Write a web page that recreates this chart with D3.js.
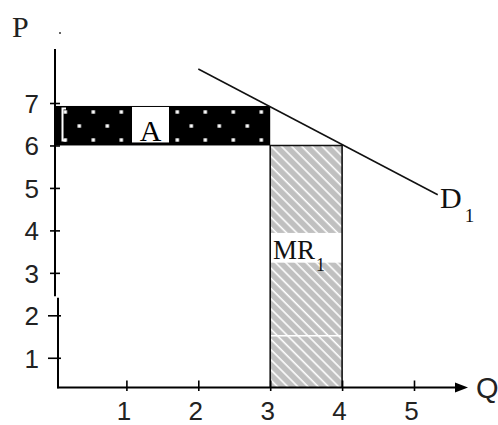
<!DOCTYPE html>
<html><head><meta charset="utf-8">
<script src="https://cdn.jsdelivr.net/npm/d3@7"></script>
<style>html,body{margin:0;padding:0;background:#fff;}</style>
</head><body>
<svg id="chart" width="498" height="425"></svg>
<script>
// Axis ticks
const qTicks = [1, 2, 3, 4, 5];
const pTicks = [1, 2, 3, 4, 5, 6, 7];
// Demand curve D1: end points as [Q, P]
const demandQ = [2.0, 5.33];
const demandP = [7.8, 4.84];
// Area A: gain in price on the units already sold
const areaAQ = [0, 3];
const areaAP = [6, 6.93];
// Area MR1: revenue from the extra unit sold
const areaMRQ = [3, 4];
const areaMRP = [0.3, 6];

const svg = d3.select("#chart");
const x = d3.scaleLinear().domain([0, 5]).range([54.5, 414]);
const y = d3.scaleLinear().domain([0.3, 7]).range([387.5, 103]);
const fmt = d3.format("d");

const serif = "'Liberation Serif', 'Times New Roman', serif";
const sans = "'Liberation Sans', Arial, sans-serif";

// fill patterns
const defs = svg.append("defs");
const dots = defs.append("pattern").attr("id", "dots")
  .attr("patternUnits", "userSpaceOnUse")
  .attr("width", 28).attr("height", 28).attr("x", 2.3).attr("y", 21);
dots.append("rect").attr("width", 28).attr("height", 28).attr("fill", "#000");
dots.append("rect").attr("x", 5.3).attr("y", 5.3).attr("width", 3.4).attr("height", 3.4).attr("fill", "#fff");
dots.append("rect").attr("x", 19.3).attr("y", 19.3).attr("width", 3.4).attr("height", 3.4).attr("fill", "#fff");

const hatch = defs.append("pattern").attr("id", "hatch")
  .attr("patternUnits", "userSpaceOnUse")
  .attr("width", 7.2).attr("height", 7.2)
  .attr("patternTransform", "rotate(-45)");
hatch.append("rect").attr("width", 7.2).attr("height", 7.2).attr("fill", "#c0c0c0");
hatch.append("line").attr("x1", 2).attr("x2", 2).attr("y1", 0).attr("y2", 7.2)
  .attr("stroke", "#fff").attr("stroke-width", 1.6);

// MR1 area
const mr = svg.append("g");
mr.append("rect")
  .attr("x", x(areaMRQ[0])).attr("y", y(areaMRP[1]))
  .attr("width", x(areaMRQ[1]) - x(areaMRQ[0]))
  .attr("height", y(areaMRP[0]) - y(areaMRP[1]))
  .attr("fill", "url(#hatch)");
// white label band and a thin white rule across the hatch
mr.append("rect")
  .attr("x", x(areaMRQ[0])).attr("y", y(3.94))
  .attr("width", x(areaMRQ[1]) - x(areaMRQ[0]))
  .attr("height", y(3.24) - y(3.94))
  .attr("fill", "#fff");
mr.append("line")
  .attr("x1", x(areaMRQ[0])).attr("x2", x(areaMRQ[1]))
  .attr("y1", y(1.52)).attr("y2", y(1.52))
  .attr("stroke", "#fff").attr("stroke-width", 1.5);
mr.append("path")
  .attr("d", `M${x(areaMRQ[0])},${y(areaMRP[0])}V${y(areaMRP[1])}H${x(areaMRQ[1])}V${y(areaMRP[0])}`)
  .attr("fill", "none").attr("stroke", "#111").attr("stroke-width", 1.6);

// Area A
const a = svg.append("g");
a.append("rect")
  .attr("x", x(areaAQ[0])).attr("y", y(areaAP[1]))
  .attr("width", x(areaAQ[1]) - x(areaAQ[0]))
  .attr("height", y(areaAP[0]) - y(areaAP[1]))
  .attr("fill", "url(#dots)");
a.append("path")
  .attr("d", `M66,108.5H62.5V140.5H66`)
  .attr("fill", "none").attr("stroke", "#fff").attr("stroke-width", 2);
a.append("rect")
  .attr("x", 132).attr("y", y(areaAP[1]) + 1)
  .attr("width", 37).attr("height", y(areaAP[0]) - y(areaAP[1]) - 4)
  .attr("fill", "#fff");
a.append("text").attr("x", 150.5).attr("y", 141)
  .attr("text-anchor", "middle")
  .attr("font-family", serif).attr("font-size", 30)
  .text("A");

// Y axis
const yAxis = svg.append("g").attr("transform", "translate(55,0)")
  .call(d3.axisLeft(y).tickValues(pTicks).tickFormat(fmt).tickSize(6).tickPadding(10));
yAxis.select(".domain").remove();
yAxis.selectAll(".tick line")
  .attr("x1", d => d <= 2 ? 6 : 5)
  .attr("x2", d => d <= 2 ? -7 : -5)
  .attr("stroke", "#000").attr("stroke-width", 1.6);
yAxis.selectAll(".tick text")
  .attr("font-family", sans).attr("font-size", 26).attr("fill", "#222")
  .attr("dy", "0.36em");
svg.append("path")
  .attr("d", `M55,49V${y(2.45)}M58,${y(2.45) + 1.5}V388.3`)
  .attr("fill", "none").attr("stroke", "#000").attr("stroke-width", 2);

// X axis
const xAxis = svg.append("g").attr("transform", `translate(0,${y(0.3)})`)
  .call(d3.axisBottom(x).tickValues(qTicks).tickFormat(fmt).tickSize(4).tickPadding(9));
xAxis.select(".domain").remove();
xAxis.selectAll(".tick line")
  .attr("y1", -7).attr("y2", 3.5)
  .attr("stroke", "#000").attr("stroke-width", 1.6);
xAxis.selectAll(".tick text")
  .attr("font-family", sans).attr("font-size", 26).attr("fill", "#222")
  .attr("dx", -3).attr("dy", "0.74em");
svg.append("line")
  .attr("x1", 57).attr("x2", 458)
  .attr("y1", y(0.3)).attr("y2", y(0.3))
  .attr("stroke", "#000").attr("stroke-width", 2);
svg.append("path")
  .attr("d", `M455,${y(0.3) - 5}L468,${y(0.3)}L455,${y(0.3) + 5}Z`)
  .attr("fill", "#000");

// Demand curve
svg.append("line")
  .attr("x1", x(demandQ[0])).attr("y1", y(demandP[0]))
  .attr("x2", x(demandQ[1])).attr("y2", y(demandP[1]))
  .attr("stroke", "#111").attr("stroke-width", 1.5);

// Labels
svg.append("text").attr("x", 12).attr("y", 37)
  .attr("font-family", serif).attr("font-size", 30).attr("fill", "#222").text("P");
svg.append("circle").attr("cx", 60).attr("cy", 33).attr("r", 1).attr("fill", "#333");
svg.append("text").attr("x", 476).attr("y", 398)
  .attr("font-family", sans).attr("font-size", 29).attr("fill", "#222").text("Q");

const d1 = svg.append("text").attr("x", 440).attr("y", 208)
  .attr("font-family", serif).attr("font-size", 30).attr("fill", "#111");
d1.append("tspan").text("D");
d1.append("tspan").attr("dx", 3).attr("dy", 14).attr("font-size", 19).text("1");

const mrl = svg.append("text").attr("x", 273).attr("y", 259)
  .attr("font-family", serif).attr("font-size", 27).attr("fill", "#111");
mrl.append("tspan").text("MR");
mrl.append("tspan").attr("dx", 1).attr("dy", 12).attr("font-size", 18).text("1");
</script>
</body></html>
